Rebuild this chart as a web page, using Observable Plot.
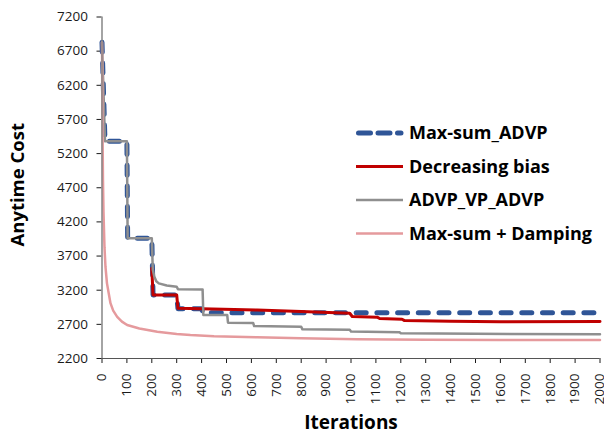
<!DOCTYPE html>
<html><head><meta charset="utf-8">
<script src="https://cdn.jsdelivr.net/npm/d3@7"></script>
<script src="https://cdn.jsdelivr.net/npm/@observablehq/plot@0.6"></script>
<style>
body{margin:0;background:#fff;font-family:"Open Sans",sans-serif}
#wrap{position:relative;width:604px;height:441px;overflow:hidden}
#legend{position:absolute;left:0;top:0}
</style></head><body><div id="wrap"></div>
<script>
const seriesNames = ["Max-sum_ADVP", "Decreasing bias", "ADVP_VP_ADVP", "Max-sum + Damping"];
const seriesColors = ["#2F5597", "#C00000", "#8F8F8F", "#E59A9D"];
const yTicks = [2200, 2700, 3200, 3700, 4200, 4700, 5200, 5700, 6200, 6700, 7200];
const xTicks = [0,100,200,300,400,500,600,700,800,900,1000,1100,1200,1300,1400,1500,1600,1700,1800,1900,2000];

const advpIter = [0, 12, 100, 103, 200, 205, 300, 305, 400, 405, 2000];
const advpCost = [6830, 5380, 5380, 3960, 3960, 3130, 3130, 2930, 2930, 2870, 2870];

const biasIter = [200, 205, 300, 305, 400, 623, 800, 995, 1005, 1105, 1115, 1205, 1215, 1400, 1600, 2000];
const biasCost = [3520, 3130, 3130, 2935, 2930, 2910, 2888, 2862, 2815, 2805, 2785, 2775, 2755, 2745, 2738, 2740];

const vpIter = [0, 12, 100, 103, 200, 204, 210, 218, 228, 260, 300, 305, 404, 407, 503, 506, 607, 611, 800, 805, 995, 1000, 1195, 1200, 1500, 2000];
const vpCost = [6830, 5380, 5380, 3960, 3960, 3500, 3400, 3330, 3300, 3270, 3250, 3215, 3212, 2836, 2836, 2724, 2720, 2675, 2665, 2627, 2620, 2595, 2585, 2570, 2562, 2555];

const dampIter = [0, 2, 4, 6, 10, 14, 20, 34, 45, 61, 80, 101, 150, 222, 300, 355, 450, 623, 800, 1025, 1300, 1600, 2000];
const dampCost = [6830, 5600, 4800, 4350, 3830, 3540, 3300, 3010, 2900, 2810, 2740, 2690, 2640, 2592, 2560, 2543, 2525, 2510, 2495, 2481, 2475, 2472, 2470];

const series = [
  {iter: advpIter, cost: advpCost},
  {iter: biasIter, cost: biasCost},
  {iter: vpIter, cost: vpCost},
  {iter: dampIter, cost: dampCost}
];
const rows = series.map((s, i) => s.iter.map((x, j) => ({x, y: s.cost[j], name: seriesNames[i]})));

const lineStyles = [
  {stroke: seriesColors[0], strokeWidth: 5, strokeDasharray: "10,10.7", strokeLinecap: "round"},
  {stroke: seriesColors[1], strokeWidth: 3},
  {stroke: seriesColors[2], strokeWidth: 2.5},
  {stroke: seriesColors[3], strokeWidth: 2.5}
];

const chart = Plot.plot({
  width: 604, height: 441,
  marginLeft: 101.5, marginRight: 4.5, marginTop: 16.5, marginBottom: 83,
  style: {fontFamily: "Open Sans", fontSize: "13px", background: "white", color: "#1a1a1a"},
  x: {domain: [0, 2000]},
  y: {domain: [2200, 7200]},
  marks: [
    Plot.axisY({ticks: yTicks, tickSize: 5, tickPadding: 9, fontSize: 13.5, label: null, tickFormat: d => String(d), color: "#1a1a1a"}),
    Plot.axisX({ticks: xTicks, tickSize: 5, tickPadding: 10, tickRotate: -90, fontSize: 13.5, label: null, tickFormat: d => String(d), color: "#1a1a1a"}),
    ...rows.map((r, i) => Plot.line(r, {x: "x", y: "y", ...lineStyles[i]})),
    Plot.ruleX([0], {stroke: "#868686", strokeWidth: 1.5}),
    Plot.ruleY([2200], {stroke: "#555", strokeWidth: 1.2}),
    Plot.text(["Iterations"], {frameAnchor: "bottom", dy: 70, fontSize: 19, fontWeight: "bold", fill: "#000"}),
    Plot.text(["Anytime Cost"], {frameAnchor: "left", textAnchor: "middle", dx: -84, dy: -3, rotate: -90, fontSize: 18.5, fontWeight: "bold", fill: "#000"})
  ]
});
const wrap = document.getElementById("wrap");
wrap.appendChild(chart);

// legend overlay
const leg = d3.select(wrap).append("svg").attr("id", "legend").attr("width", 604).attr("height", 441);
const legX = 356, legY0 = 133, legDy = 33.5;
seriesNames.forEach((name, i) => {
  const g = leg.append("g").attr("transform", `translate(${legX},${legY0 + i * legDy})`);
  const l = g.append("line").attr("x1", 0).attr("x2", 47).attr("y1", 0).attr("y2", 0)
    .attr("stroke", seriesColors[i]).attr("stroke-width", i === 0 ? 5 : (i === 1 ? 3 : 2.5));
  if (i === 0) l.attr("stroke-dasharray", "12,7.5").attr("stroke-linecap", "round").attr("x1", 2.5).attr("x2", 45);
  g.append("text").attr("x", 53).attr("y", 0).attr("dy", "0.35em")
    .attr("font-family", "Open Sans").attr("font-weight", "bold").attr("font-size", 18)
    .attr("fill", "#000").text(name);
});
</script></body></html>
